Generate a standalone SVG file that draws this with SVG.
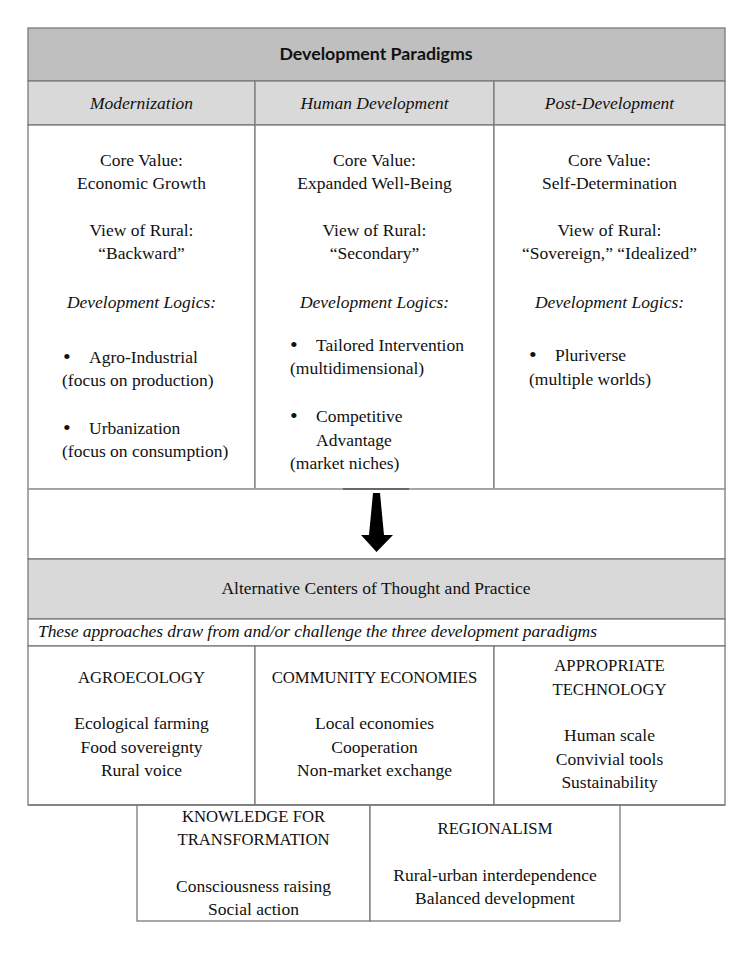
<svg xmlns="http://www.w3.org/2000/svg" width="750" height="971" viewBox="0 0 750 971">
<style>
.b{stroke:#7a7a7a;stroke-width:1.3;fill:#fff}
.g1{fill:#bfbfbf}
.g2{fill:#d9d9d9}
.ln{stroke:#7a7a7a;stroke-width:1.3;fill:none}
.lt{stroke:#aaaaaa;stroke-width:1.3;fill:none}
text{font-family:"Liberation Serif","Times New Roman",serif;font-size:17.5px;fill:#111}
.c{text-anchor:middle}
.i{font-style:italic}
.u{font-size:16.7px}
.d{font-size:22px}
.t{font-family:Lato,"Liberation Sans",sans-serif;font-weight:bold;font-size:17.8px}
</style>
<rect x="0" y="0" width="750" height="971" fill="#fff"/>

<g id="title">
<rect x="28" y="28" width="697" height="53" class="b g1"/>
<text x="376" y="60" class="c t">Development Paradigms</text>
</g>

<g id="modernization">
<rect x="28" y="81" width="227" height="44" class="b g2"/>
<text x="141.5" y="109" class="c i">Modernization</text>
<rect x="28" y="125" width="227" height="364" class="b"/>
<text x="141.5" y="166" class="c">Core Value:</text>
<text x="141.5" y="189" class="c">Economic Growth</text>
<text x="141.5" y="236" class="c">View of Rural:</text>
<text x="141.5" y="259" class="c">“Backward”</text>
<text x="141.5" y="308" class="c i">Development Logics:</text>
<text x="63" y="364" class="d">•</text>
<text x="89" y="363">Agro-Industrial</text>
<text x="62" y="386">(focus on production)</text>
<text x="63" y="435" class="d">•</text>
<text x="89" y="434">Urbanization</text>
<text x="62" y="457">(focus on consumption)</text>
</g>

<g id="human-development">
<rect x="255" y="81" width="239" height="44" class="b g2"/>
<text x="374.5" y="109" class="c i">Human Development</text>
<rect x="255" y="125" width="239" height="364" class="b"/>
<text x="374.5" y="166" class="c">Core Value:</text>
<text x="374.5" y="189" class="c">Expanded Well-Being</text>
<text x="374.5" y="236" class="c">View of Rural:</text>
<text x="374.5" y="259" class="c">“Secondary”</text>
<text x="374.5" y="308" class="c i">Development Logics:</text>
<text x="290" y="352" class="d">•</text>
<text x="316" y="351">Tailored Intervention</text>
<text x="290" y="374">(multidimensional)</text>
<text x="290" y="423" class="d">•</text>
<text x="316" y="422">Competitive</text>
<text x="316" y="446">Advantage</text>
<text x="290" y="469">(market niches)</text>
</g>

<g id="post-development">
<rect x="494" y="81" width="231" height="44" class="b g2"/>
<text x="609.5" y="109" class="c i">Post-Development</text>
<rect x="494" y="125" width="231" height="364" class="b"/>
<text x="609.5" y="166" class="c">Core Value:</text>
<text x="609.5" y="189" class="c">Self-Determination</text>
<text x="609.5" y="236" class="c">View of Rural:</text>
<text x="609.5" y="259" class="c">“Sovereign,” “Idealized”</text>
<text x="609.5" y="308" class="c i">Development Logics:</text>
<text x="529" y="362" class="d">•</text>
<text x="555" y="361">Pluriverse</text>
<text x="529" y="385">(multiple worlds)</text>
</g>

<g id="arrow-row">
<rect x="28" y="489" width="697" height="70" class="b"/>
<line x1="28" y1="489" x2="725" y2="489" class="lt"/>
<line x1="343" y1="489" x2="409" y2="489" stroke="#555" stroke-width="1.3"/>
</g>

<g id="alternative-centers">
<rect x="28" y="559" width="697" height="60" class="b g2"/>
<text x="376" y="594" class="c">Alternative Centers of Thought and Practice</text>
</g>

<g id="note">
<rect x="28" y="619" width="697" height="27" class="b"/>
<text x="38" y="637" class="i" textLength="559" lengthAdjust="spacing">These approaches draw from and/or challenge the three development paradigms</text>
</g>

<g id="agroecology">
<rect x="28" y="646" width="227" height="159" class="b"/>
<text x="141.5" y="683" class="c u">AGROECOLOGY</text>
<text x="141.5" y="729" class="c">Ecological farming</text>
<text x="141.5" y="753" class="c">Food sovereignty</text>
<text x="141.5" y="776" class="c">Rural voice</text>
</g>

<g id="community-economies">
<rect x="255" y="646" width="239" height="159" class="b"/>
<text x="374.5" y="683" class="c u">COMMUNITY ECONOMIES</text>
<text x="374.5" y="729" class="c">Local economies</text>
<text x="374.5" y="753" class="c">Cooperation</text>
<text x="374.5" y="776" class="c">Non-market exchange</text>
</g>

<g id="appropriate-technology">
<rect x="494" y="646" width="231" height="159" class="b"/>
<text x="609.5" y="671" class="c u">APPROPRIATE</text>
<text x="609.5" y="695" class="c u">TECHNOLOGY</text>
<text x="609.5" y="741" class="c">Human scale</text>
<text x="609.5" y="765" class="c">Convivial tools</text>
<text x="609.5" y="788" class="c">Sustainability</text>
</g>

<g id="knowledge-for-transformation">
<rect x="137" y="805" width="233" height="116" class="b"/>
<text x="253.5" y="822" class="c u">KNOWLEDGE FOR</text>
<text x="253.5" y="845" class="c u">TRANSFORMATION</text>
<text x="253.5" y="892" class="c">Consciousness raising</text>
<text x="253.5" y="915" class="c">Social action</text>
</g>

<g id="regionalism">
<rect x="370" y="805" width="250" height="116" class="b"/>
<text x="495" y="834" class="c u">REGIONALISM</text>
<text x="495" y="881" class="c">Rural-urban interdependence</text>
<text x="495" y="904" class="c">Balanced development</text>
</g>

<line x1="28" y1="805" x2="725" y2="805" class="ln"/>

<g id="connectors">
<polygon points="373,493 380,493 384,535 393,535 376.5,552 361,535 369,535" fill="#000"/>
</g>
</svg>
